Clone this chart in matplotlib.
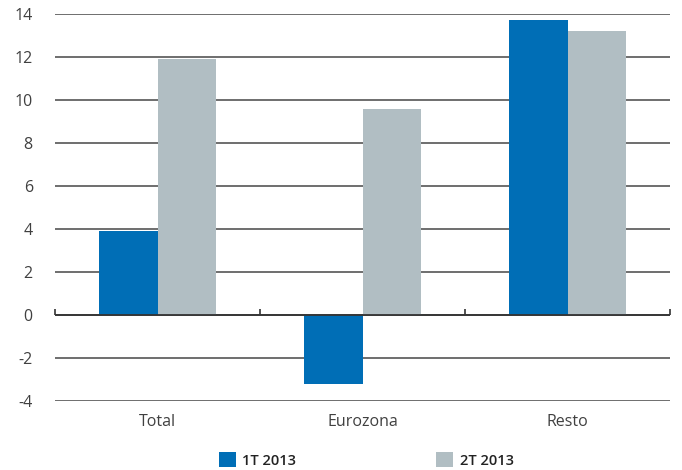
import numpy as np
import matplotlib
matplotlib.use("Agg")
import matplotlib.pyplot as plt

plt.rcParams['font.family'] = ['Open Sans', 'DejaVu Sans']

categories = ['Total', 'Eurozona', 'Resto']
serie_1t = [3.9, -3.2, 13.7]
serie_2t = [11.9, 9.6, 13.2]
labels = ['1T 2013', '2T 2013']
colors = ['#006EB6', '#B1BEC3']
y_ticks = [-4, -2, 0, 2, 4, 6, 8, 10, 12, 14]

fig = plt.figure(figsize=(6.82, 4.70), dpi=100)
ax = fig.add_axes([55 / 682, 1 - 401 / 470, 615 / 682, 387 / 470])

x = np.arange(len(categories))
w = 0.287
ax.bar(x - w / 2, serie_1t, w, color=colors[0], label=labels[0], zorder=3)
ax.bar(x + w / 2, serie_2t, w, color=colors[1], label=labels[1], zorder=3)

ax.set_xlim(-0.5, len(categories) - 0.5)
ax.set_ylim(-4, 14)
ax.set_yticks(y_ticks)
ax.set_yticklabels([str(v) for v in y_ticks])
ax.yaxis.grid(True, color='#555555', linewidth=1.2, zorder=0)
ax.set_axisbelow(True)
ax.axhline(0, color='#333333', linewidth=1.3, zorder=4)

ax.set_xticks(x)
ax.set_xticklabels(categories)
ax.tick_params(axis='both', length=0, labelsize=11.5, labelcolor='#404040')
ax.tick_params(axis='x', pad=9)
ax.tick_params(axis='y', pad=16)
for s in ax.spines.values():
    s.set_visible(False)

# tick marks between categories on the zero line
zero_frac = (0 - (-4)) / 18
sec = ax.secondary_xaxis(zero_frac)
sec.set_xticks(np.arange(-0.5, len(categories), 1.0))
sec.tick_params(direction='in', length=4, width=1.2, color='#333333', labelbottom=False, labeltop=False, labelsize=0)
sec.spines['bottom'].set_visible(False)
sec.spines['top'].set_visible(False)

leg = fig.legend(loc='center', bbox_to_anchor=(0.537, 1 - 460 / 470), ncol=2, frameon=False,
                 fontsize=10.5, handlelength=1.15, handleheight=1.15, handletextpad=0.45,
                 columnspacing=9.6)
for t in leg.get_texts():
    t.set_color('#222222')
    t.set_fontweight('semibold')

fig.savefig('out.png', dpi=100)
